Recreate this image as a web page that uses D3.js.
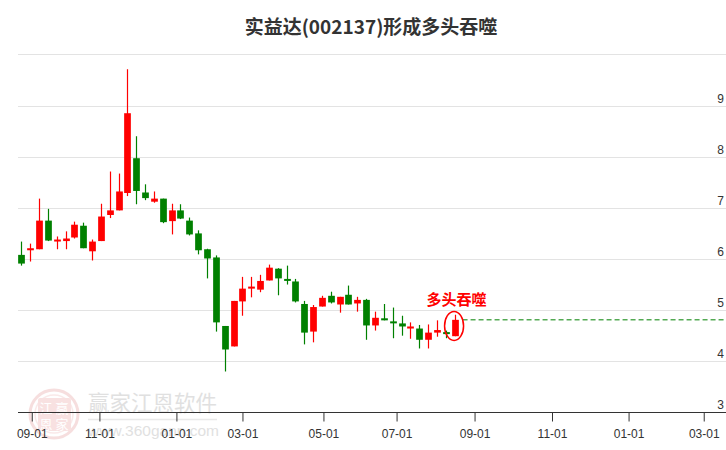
<!DOCTYPE html>
<html><head><meta charset="utf-8">
<script src="https://cdn.jsdelivr.net/npm/d3@7"></script>
<style>html,body{margin:0;padding:0;background:#fff;}svg{display:block;}</style>
</head><body>
<script>
// weekly candles (index = trading week)
const weeks = d3.range(50);
const open  = [6.08,6.17,6.19,6.75,6.35,6.35,6.42,6.65,6.15,6.35,6.86,6.95,7.29,7.97,7.30,7.12,7.18,6.74,6.95,6.75,6.50,6.19,6.03,4.69,4.29,5.17,5.42,5.40,5.58,5.81,5.61,5.56,5.12,4.58,5.07,5.28,5.11,5.30,5.13,5.20,4.70,4.84,4.78,4.74,4.64,4.64,4.42,4.56,4.57,4.49];
const high  = [6.34,6.30,7.18,6.98,6.44,6.54,6.73,6.71,6.38,7.08,7.71,7.67,9.71,8.40,7.46,7.32,7.18,7.08,7.07,6.81,6.56,6.20,6.07,4.69,5.18,5.65,5.65,5.69,5.89,5.82,5.87,5.61,5.18,5.10,5.28,5.36,5.26,5.48,5.26,5.22,4.97,5.12,5.05,4.89,4.76,4.71,4.72,4.80,4.60,4.91];
const low   = [5.87,5.95,6.19,6.35,6.19,6.19,6.40,6.21,5.97,6.35,6.80,6.95,7.23,7.07,7.15,7.10,6.70,6.48,6.78,6.46,6.09,5.62,4.58,3.80,4.29,4.89,5.25,5.35,5.58,5.29,5.50,5.15,4.33,4.37,5.07,5.13,4.95,5.11,4.97,4.42,4.60,4.80,4.45,4.50,4.44,4.25,4.25,4.48,4.45,4.49];
const close = [5.91,6.21,6.75,6.36,6.38,6.40,6.67,6.21,6.34,6.83,6.95,7.32,8.85,7.33,7.19,7.18,6.72,6.95,6.79,6.48,6.17,6.01,4.76,4.23,5.18,5.42,5.46,5.57,5.83,5.62,5.58,5.17,4.56,5.06,5.24,5.15,5.26,5.11,5.20,4.70,4.85,4.80,4.76,4.68,4.68,4.42,4.56,4.61,4.55,4.81];
// x-axis ticks (position in week units) and labels
const tickPos    = [1.18,8.83,17.54,25.01,34.17,42.44,51.26,60.02,68.68,77.18];
const tickLabels = ["09-01","11-01","01-01","03-01","05-01","07-01","09-01","11-01","01-01","03-01"];
const yTicks = [3,4,5,6,7,8,9,10];
const title = "实益达(002137)形成多头吞噬";
const signalLabel = "多头吞噬";
const signalIndex = 49;

const W = 726, H = 450;
const svg = d3.select("body").append("svg").attr("width", W).attr("height", H);

const x = d3.scaleLinear().domain([-0.4, 79.7]).range([17.8, 726]);
const y = d3.scaleLinear().domain([3, 10]).range([412.4, 54.4]);
const step = x(1) - x(0);
const bw = step * 0.76;

// watermark
const wm = svg.append("g").attr("opacity", 0.55);
wm.append("circle").attr("cx", 54).attr("cy", 414).attr("r", 24).attr("fill", "none").attr("stroke", "#f0c4c4").attr("stroke-width", 3);
wm.append("circle").attr("cx", 54).attr("cy", 414).attr("r", 19).attr("fill", "none").attr("stroke", "#f6d8d8").attr("stroke-width", 1.5);
wm.append("rect").attr("x", 38).attr("y", 398).attr("width", 33).attr("height", 33).attr("fill", "#f4caca").attr("rx", 2);
[["江",46,413],["赢",62,413],["恩",46,429],["家",62,429]].forEach(d => {
  wm.append("text").attr("x", d[1]).attr("y", d[2]).attr("text-anchor", "middle")
    .attr("font-family", "Noto Sans CJK SC").attr("font-size", 13).attr("fill", "#ffffff").text(d[0]);
});
wm.append("text").attr("x", 88).attr("y", 411).attr("font-family", "Noto Sans CJK SC")
  .attr("font-size", 21.5).attr("fill", "#c8c8c8").text("赢家江恩软件");
wm.append("line").attr("x1", 88).attr("x2", 217).attr("y1", 419.5).attr("y2", 419.5).attr("stroke", "#d8d8d8").attr("stroke-width", 1.5);
wm.append("text").attr("x", 88).attr("y", 436).attr("font-family", "Liberation Sans")
  .attr("font-size", 15.5).attr("fill", "#c8c8c8").text("www.360gann.com");

// grid
svg.append("g").selectAll("line").data(yTicks.filter(v => v > 3)).join("line")
  .attr("x1", 18).attr("x2", W).attr("y1", d => Math.round(y(d)) + 0.5).attr("y2", d => Math.round(y(d)) + 0.5)
  .attr("stroke", "#e3e3e3").attr("stroke-width", 1);
svg.append("g").selectAll("text").data(yTicks.filter(v => v < 10)).join("text")
  .attr("x", 724).attr("y", d => Math.round(y(d)) - 3).attr("text-anchor", "end")
  .attr("font-family", "Liberation Sans").attr("font-size", 12).attr("fill", "#333").text(d => d);

// x axis
const xAxis = d3.axisBottom(x).tickValues(tickPos).tickFormat((d, i) => tickLabels[i]).tickSize(9).tickSizeOuter(0);
const gx = svg.append("g").attr("transform", `translate(0,${Math.round(y(3)) + 0.5})`).call(xAxis);
gx.select(".domain").attr("stroke", "#333").attr("d", `M18,0H${W}`);
gx.selectAll(".tick line").attr("stroke", "#333");
gx.selectAll(".tick text").attr("font-family", "Liberation Sans").attr("font-size", 12).attr("fill", "#333").attr("dy", "1.15em");

// candles
const cg = svg.append("g");
const data = weeks.map(i => ({i, o: open[i], h: high[i], l: low[i], c: close[i]}));
const col = d => d.c >= d.o ? "#ff0000" : "#008000";
cg.selectAll("line").data(data).join("line")
  .attr("x1", d => Math.round(x(d.i)) + 0.5).attr("x2", d => Math.round(x(d.i)) + 0.5)
  .attr("y1", d => y(d.h)).attr("y2", d => y(d.l))
  .attr("stroke", col).attr("stroke-width", 1.2);
cg.selectAll("rect").data(data).join("rect")
  .attr("x", d => Math.round(x(d.i)) + 0.5 - bw / 2)
  .attr("y", d => Math.min(y(d.o), y(d.c)))
  .attr("width", bw)
  .attr("height", d => Math.max(2, Math.abs(y(d.o) - y(d.c))))
  .attr("fill", col);

// signal
const last = data[signalIndex];
svg.append("line").attr("x1", x(signalIndex) + 8).attr("x2", W)
  .attr("y1", y(last.c)).attr("y2", y(last.c))
  .attr("stroke", "#008000").attr("stroke-width", 1).attr("stroke-dasharray", "5,3");
svg.append("ellipse").attr("cx", x(signalIndex) - 0.5).attr("cy", (y(last.h) + y(last.l)) / 2 + 0.5)
  .attr("rx", 9.5).attr("ry", 14.5).attr("fill", "none").attr("stroke", "#ff0000").attr("stroke-width", 1.5);
svg.append("text").attr("x", x(signalIndex) + 2).attr("y", 305).attr("text-anchor", "middle")
  .attr("font-family", "Noto Sans CJK SC").attr("font-weight", "bold").attr("font-size", 15)
  .attr("fill", "#ff0000").text(signalLabel);

// title
svg.append("text").attr("x", 371).attr("y", 34).attr("text-anchor", "middle")
  .attr("font-family", "Noto Sans CJK SC").attr("font-weight", "bold").attr("font-size", 19)
  .attr("fill", "#333").text(title);
</script>
</body></html>
